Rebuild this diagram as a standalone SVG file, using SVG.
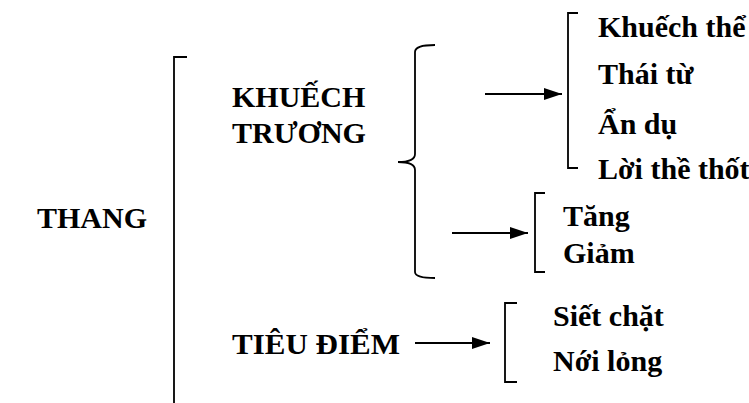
<svg xmlns="http://www.w3.org/2000/svg" width="749" height="403" viewBox="0 0 749 403">
<style>
text{font-family:"Liberation Serif","Times New Roman",serif;font-weight:bold;font-size:30px;fill:#000}
.ln{fill:none;stroke:#000;stroke-width:1.8}
</style>
<defs>
<marker id="ah" viewBox="0 0 18 12" refX="18" refY="6" markerWidth="18" markerHeight="12" markerUnits="userSpaceOnUse" orient="auto">
<path d="M0,0 L18,6 L0,12 z" fill="#000"/>
</marker>
</defs>
<rect width="749" height="403" fill="#fff"/>
<g id="thang"><text x="37" y="228">THANG</text></g>
<g id="khuech-truong"><text x="232" y="107">KHUẾCH</text><text x="232" y="143">TRƯƠNG</text></g>
<g id="tieu-diem"><text x="232" y="354" textLength="168" lengthAdjust="spacingAndGlyphs">TIÊU ĐIỂM</text></g>
<g id="list1"><text x="598" y="37">Khuếch thể</text><text x="598" y="84">Thái từ</text><text x="598" y="134">Ẩn dụ</text><text x="598" y="179">Lời thề thốt</text></g>
<g id="list2"><text x="563" y="226">Tăng</text><text x="563" y="263">Giảm</text></g>
<g id="list3"><text x="553" y="326">Siết chặt</text><text x="553" y="371">Nới lỏng</text></g>
<g id="connectors">
<path class="ln" d="M187,57 H174 V403"/>
<path class="ln" d="M435,45 Q415,45 415,52 V154 Q415,162 398,162 Q415,162 415,170 V272 Q415,278 435,278"/>
<path class="ln" d="M578,13 H568 V168 H578"/>
<path class="ln" d="M545,193 H535 V272 H545"/>
<path class="ln" d="M517,303 H505 V382 H517"/>
<line class="ln" x1="485" y1="94" x2="562" y2="94" marker-end="url(#ah)"/>
<line class="ln" x1="452" y1="233" x2="528" y2="233" marker-end="url(#ah)"/>
<line class="ln" x1="415" y1="343" x2="490" y2="343" marker-end="url(#ah)"/>
</g>
</svg>
